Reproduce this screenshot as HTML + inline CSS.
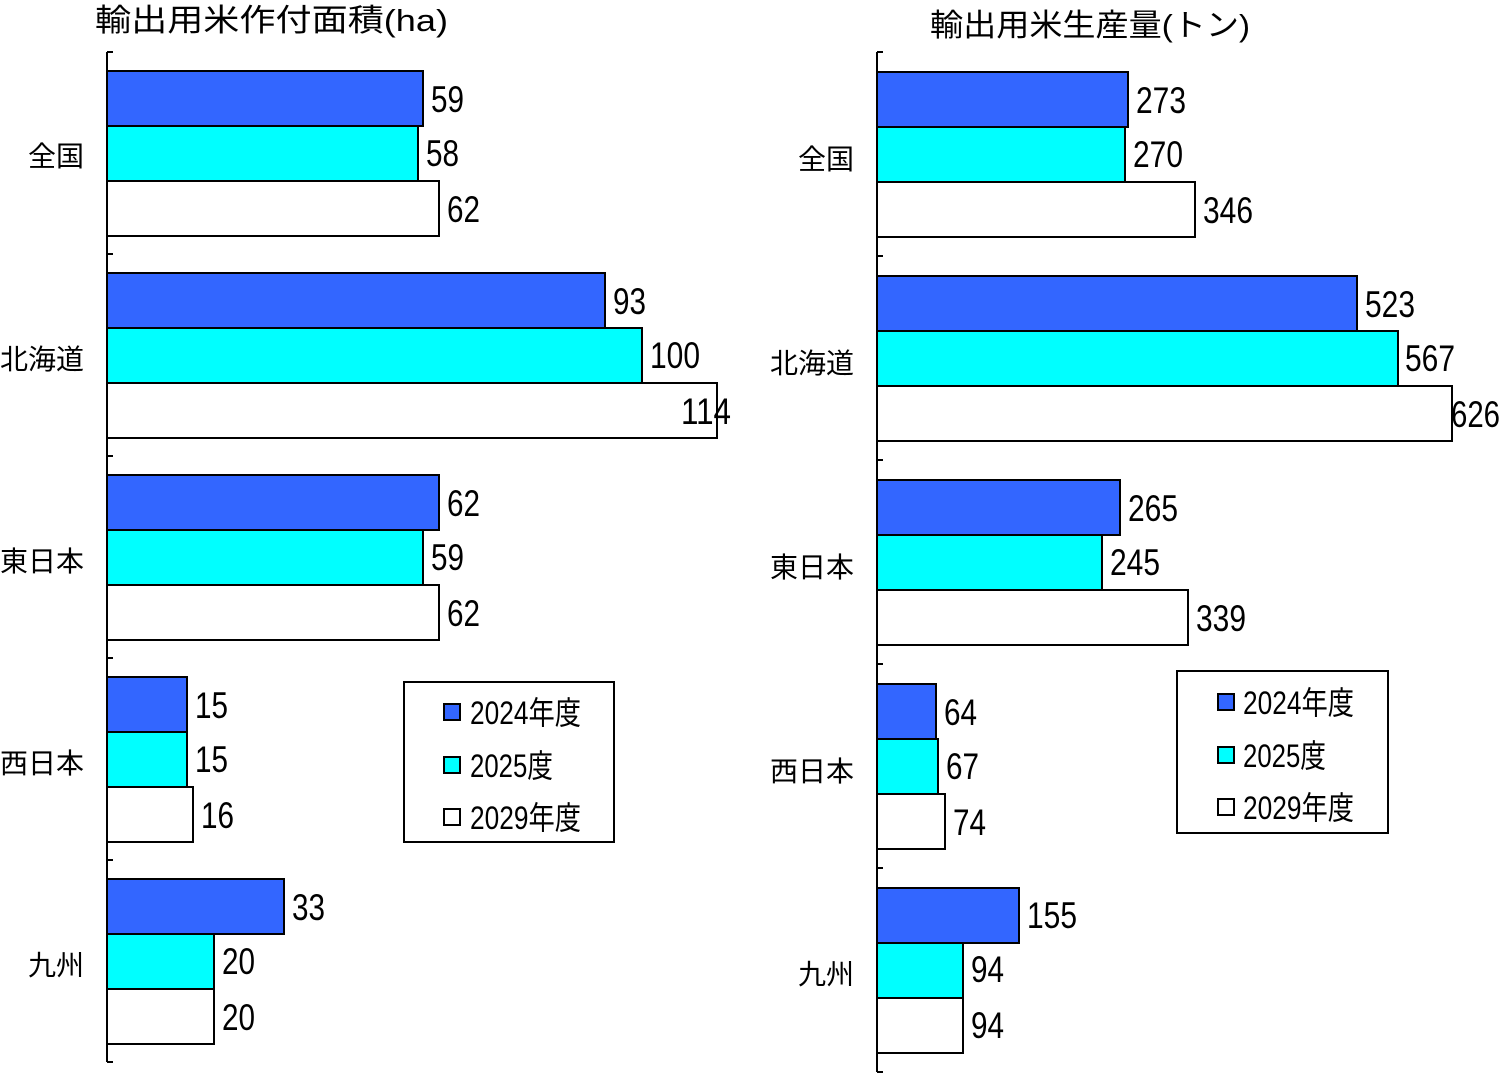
<!DOCTYPE html>
<html><head><meta charset="utf-8"><style>
html,body{margin:0;padding:0;background:#fff;}
svg{display:block}
text{font-family:"Liberation Sans","Noto Sans CJK JP",sans-serif;fill:#000}
.v{font-size:37px}
.c{font-size:28px}
.t{font-size:31px}
</style></head><body>
<svg width="1500" height="1073" viewBox="0 0 1500 1073" xmlns="http://www.w3.org/2000/svg">
<g stroke="#000" stroke-width="2">
<line x1="107" y1="52" x2="107" y2="1062"/>
<line x1="107" y1="52" x2="113" y2="52"/><line x1="107" y1="254" x2="113" y2="254"/><line x1="107" y1="456" x2="113" y2="456"/><line x1="107" y1="658" x2="113" y2="658"/><line x1="107" y1="860" x2="113" y2="860"/><line x1="107" y1="1062" x2="113" y2="1062"/>
<rect x="107" y="71" width="316" height="55" fill="#3366ff"/><rect x="107" y="126" width="311" height="55" fill="#00ffff"/><rect x="107" y="181" width="332" height="55" fill="#fff"/>
<rect x="107" y="273" width="498" height="55" fill="#3366ff"/><rect x="107" y="328" width="535" height="55" fill="#00ffff"/><rect x="107" y="383" width="610" height="55" fill="#fff"/>
<rect x="107" y="475" width="332" height="55" fill="#3366ff"/><rect x="107" y="530" width="316" height="55" fill="#00ffff"/><rect x="107" y="585" width="332" height="55" fill="#fff"/>
<rect x="107" y="677" width="80" height="55" fill="#3366ff"/><rect x="107" y="732" width="80" height="55" fill="#00ffff"/><rect x="107" y="787" width="86" height="55" fill="#fff"/>
<rect x="107" y="879" width="177" height="55" fill="#3366ff"/><rect x="107" y="934" width="107" height="55" fill="#00ffff"/><rect x="107" y="989" width="107" height="55" fill="#fff"/>
<rect x="404" y="682" width="210" height="160" fill="#fff"/>
<rect x="444" y="704" width="16" height="16" fill="#3366ff"/><rect x="444" y="757" width="16" height="16" fill="#00ffff"/><rect x="444" y="809" width="16" height="16" fill="#fff"/>
<line x1="877" y1="52" x2="877" y2="1072"/>
<line x1="877" y1="52" x2="883" y2="52"/><line x1="877" y1="256" x2="883" y2="256"/><line x1="877" y1="460" x2="883" y2="460"/><line x1="877" y1="664" x2="883" y2="664"/><line x1="877" y1="868" x2="883" y2="868"/><line x1="877" y1="1072" x2="883" y2="1072"/>
<rect x="877" y="72" width="251" height="55" fill="#3366ff"/><rect x="877" y="127" width="248" height="55" fill="#00ffff"/><rect x="877" y="182" width="318" height="55" fill="#fff"/>
<rect x="877" y="276" width="480" height="55" fill="#3366ff"/><rect x="877" y="331" width="521" height="55" fill="#00ffff"/><rect x="877" y="386" width="575" height="55" fill="#fff"/>
<rect x="877" y="480" width="243" height="55" fill="#3366ff"/><rect x="877" y="535" width="225" height="55" fill="#00ffff"/><rect x="877" y="590" width="311" height="55" fill="#fff"/>
<rect x="877" y="684" width="59" height="55" fill="#3366ff"/><rect x="877" y="739" width="61" height="55" fill="#00ffff"/><rect x="877" y="794" width="68" height="55" fill="#fff"/>
<rect x="877" y="888" width="142" height="55" fill="#3366ff"/><rect x="877" y="943" width="86" height="55" fill="#00ffff"/><rect x="877" y="998" width="86" height="55" fill="#fff"/>
<rect x="1177" y="671" width="211" height="162" fill="#fff"/>
<rect x="1218" y="694" width="16" height="16" fill="#3366ff"/><rect x="1218" y="747" width="16" height="16" fill="#00ffff"/><rect x="1218" y="799" width="16" height="16" fill="#fff"/>
</g>
<text class="t" x="95" y="31" textLength="353" lengthAdjust="spacingAndGlyphs">輸出用米作付面積(ha)</text>
<text class="t" x="930" y="36" textLength="320" lengthAdjust="spacingAndGlyphs">輸出用米生産量(トン)</text>
<g class="c" text-anchor="end">
<text x="84" y="166">全国</text><text x="84" y="369">北海道</text><text x="84" y="571">東日本</text><text x="84" y="773">西日本</text><text x="84" y="975">九州</text>
<text x="854" y="169">全国</text><text x="854" y="373">北海道</text><text x="854" y="577">東日本</text><text x="854" y="781">西日本</text><text x="854" y="984">九州</text>
</g>
<g class="v">
<text x="431" y="112" textLength="33" lengthAdjust="spacingAndGlyphs">59</text>
<text x="426" y="166" textLength="33" lengthAdjust="spacingAndGlyphs">58</text>
<text x="447" y="222" textLength="33" lengthAdjust="spacingAndGlyphs">62</text>
<text x="613" y="314" textLength="33" lengthAdjust="spacingAndGlyphs">93</text>
<text x="650" y="368" textLength="50" lengthAdjust="spacingAndGlyphs">100</text>
<text x="681" y="424" textLength="50" lengthAdjust="spacingAndGlyphs">114</text>
<text x="447" y="516" textLength="33" lengthAdjust="spacingAndGlyphs">62</text>
<text x="431" y="570" textLength="33" lengthAdjust="spacingAndGlyphs">59</text>
<text x="447" y="626" textLength="33" lengthAdjust="spacingAndGlyphs">62</text>
<text x="195" y="718" textLength="33" lengthAdjust="spacingAndGlyphs">15</text>
<text x="195" y="772" textLength="33" lengthAdjust="spacingAndGlyphs">15</text>
<text x="201" y="828" textLength="33" lengthAdjust="spacingAndGlyphs">16</text>
<text x="292" y="920" textLength="33" lengthAdjust="spacingAndGlyphs">33</text>
<text x="222" y="974" textLength="33" lengthAdjust="spacingAndGlyphs">20</text>
<text x="222" y="1030" textLength="33" lengthAdjust="spacingAndGlyphs">20</text>
<text x="1136" y="113" textLength="50" lengthAdjust="spacingAndGlyphs">273</text>
<text x="1133" y="167" textLength="50" lengthAdjust="spacingAndGlyphs">270</text>
<text x="1203" y="223" textLength="50" lengthAdjust="spacingAndGlyphs">346</text>
<text x="1365" y="317" textLength="50" lengthAdjust="spacingAndGlyphs">523</text>
<text x="1405" y="371" textLength="50" lengthAdjust="spacingAndGlyphs">567</text>
<text x="1451" y="427" textLength="49" lengthAdjust="spacingAndGlyphs">626</text>
<text x="1128" y="521" textLength="50" lengthAdjust="spacingAndGlyphs">265</text>
<text x="1110" y="575" textLength="50" lengthAdjust="spacingAndGlyphs">245</text>
<text x="1196" y="631" textLength="50" lengthAdjust="spacingAndGlyphs">339</text>
<text x="944" y="725" textLength="33" lengthAdjust="spacingAndGlyphs">64</text>
<text x="946" y="779" textLength="33" lengthAdjust="spacingAndGlyphs">67</text>
<text x="953" y="835" textLength="33" lengthAdjust="spacingAndGlyphs">74</text>
<text x="1027" y="928" textLength="50" lengthAdjust="spacingAndGlyphs">155</text>
<text x="971" y="982" textLength="33" lengthAdjust="spacingAndGlyphs">94</text>
<text x="971" y="1038" textLength="33" lengthAdjust="spacingAndGlyphs">94</text>
</g>
<g style="font-size:32px">
<text x="470" y="724" textLength="111" lengthAdjust="spacingAndGlyphs">2024年度</text>
<text x="470" y="777" textLength="83" lengthAdjust="spacingAndGlyphs">2025度</text>
<text x="470" y="829" textLength="111" lengthAdjust="spacingAndGlyphs">2029年度</text>
<text x="1243" y="714" textLength="111" lengthAdjust="spacingAndGlyphs">2024年度</text>
<text x="1243" y="767" textLength="83" lengthAdjust="spacingAndGlyphs">2025度</text>
<text x="1243" y="819" textLength="111" lengthAdjust="spacingAndGlyphs">2029年度</text>
</g>
</svg>
</body></html>
